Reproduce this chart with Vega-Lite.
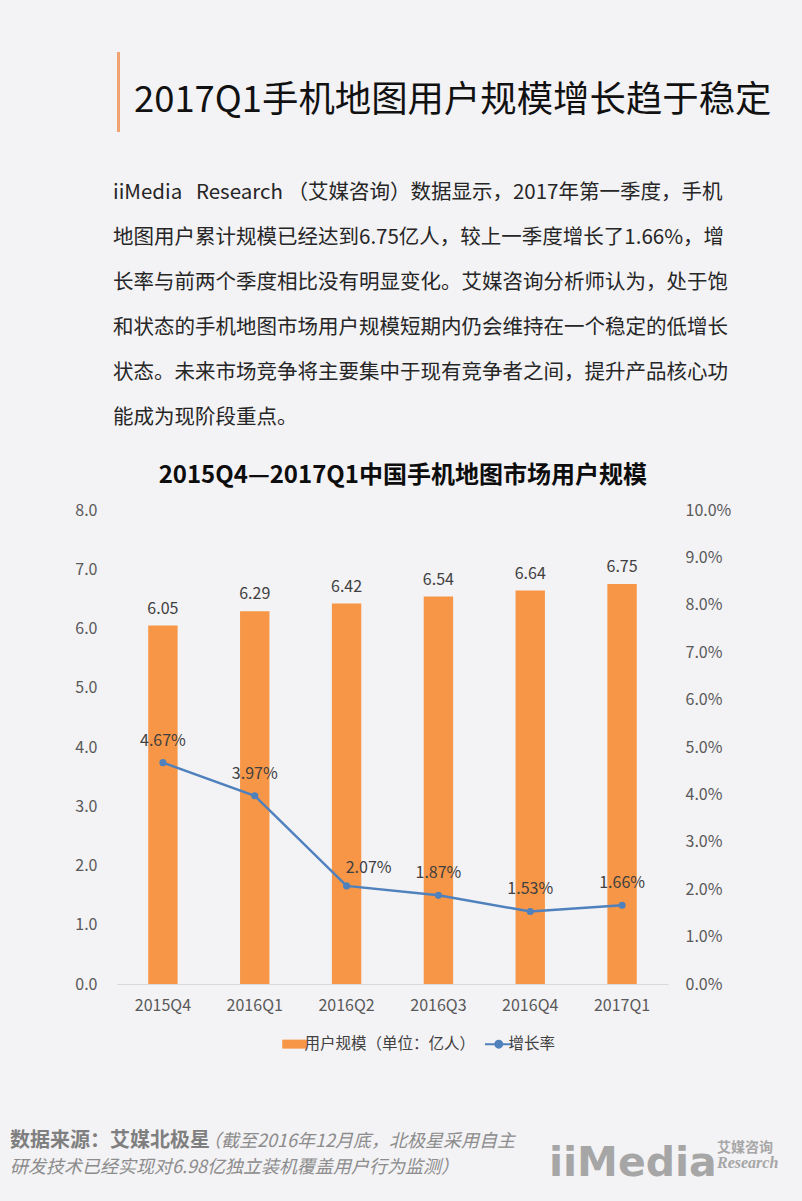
{
  "$schema": "https://vega.github.io/schema/vega-lite/v6.json",
  "background": "#F3F2F5",
  "padding": {"left": 10, "top": 52, "right": 2, "bottom": 2},
  "bounds": "flush",
  "spacing": 0,
  "config": {
    "view": {"stroke": null},
    "font": "Noto Sans CJK SC",
    "title": {"font": "Noto Sans CJK SC", "subtitleFont": "Noto Sans CJK SC"}
  },
  "vconcat": [
    {
      "width": 3,
      "height": 80,
      "view": {"fill": "#F2A170", "stroke": null},
      "data": {"values": []},
      "mark": "point",
      "title": {
        "text": "2017Q1手机地图用户规模增长趋于稳定",
        "orient": "top", "anchor": "start", "frame": "group", "offset": 0,
        "baseline": "alphabetic", "dx": 17, "dy": 96,
        "fontSize": 36.4, "fontWeight": "normal", "color": "#111111"
      }
    },
    {
      "width": 1,
      "height": 378,
      "data": {"values": []},
      "mark": "point",
      "title": {
        "text": [
          "iiMedia\u00a0\u00a0\u00a0Research\u00a0（艾媒咨询）数据显示，2017年第一季度，手机",
          "地图用户累计规模已经达到6.75亿人，较上一季度增长了1.66%，增",
          "长率与前两个季度相比没有明显变化。艾媒咨询分析师认为，处于饱",
          "和状态的手机地图市场用户规模短期内仍会维持在一个稳定的低增长",
          "状态。未来市场竞争将主要集中于现有竞争者之间，提升产品核心功",
          "能成为现阶段重点。"
        ],
        "orient": "top", "anchor": "start", "frame": "group", "offset": 0,
        "baseline": "top", "dx": -4, "dy": 296, "lineHeight": 45,
        "fontSize": 20.5, "fontWeight": "normal", "color": "#262626"
      }
    },
    {
      "width": 551,
      "height": 474,
      "data": {"values": [
        {"quarter": "2015Q4", "users": 6.05, "rate": 0.0467},
        {"quarter": "2016Q1", "users": 6.29, "rate": 0.0397},
        {"quarter": "2016Q2", "users": 6.42, "rate": 0.0207},
        {"quarter": "2016Q3", "users": 6.54, "rate": 0.0187},
        {"quarter": "2016Q4", "users": 6.64, "rate": 0.0153},
        {"quarter": "2017Q1", "users": 6.75, "rate": 0.0166}
      ]},
      "title": {
        "text": "2015Q4—2017Q1中国手机地图市场用户规模",
        "orient": "top", "anchor": "middle", "frame": "bounds", "offset": 14,
        "fontSize": 24, "fontWeight": "bold", "color": "#0D0D0D"
      },
      "encoding": {
        "x": {
          "field": "quarter", "type": "nominal", "sort": null,
          "scale": {"paddingInner": 0.68, "paddingOuter": 0.34},
          "axis": {
            "title": null, "labelAngle": 0, "labelFontSize": 16, "labelColor": "#595959",
            "domainColor": "#D9D9D9", "domainWidth": 1, "ticks": false, "tickSize": 0,
            "labelPadding": 13, "grid": false
          }
        }
      },
      "layer": [
        {
          "encoding": {
            "y": {
              "field": "users", "type": "quantitative",
              "scale": {"domain": [0, 8]},
              "axis": {
                "title": null, "values": [0, 1, 2, 3, 4, 5, 6, 7, 8], "format": ".1f",
                "domain": false, "ticks": false, "tickSize": 0, "grid": false,
                "labelPadding": 20, "labelFontSize": 16, "labelColor": "#595959"
              }
            }
          },
          "layer": [
            {
              "mark": {"type": "bar"},
              "encoding": {
                "color": {
                  "datum": "用户规模（单位：亿人）",
                  "type": "nominal",
                  "scale": {"domain": ["用户规模（单位：亿人）", "增长率"], "range": ["#F79646", "#4F81BD"]},
                  "legend": {
                    "orient": "none", "legendX": 170, "legendY": 984, "direction": "horizontal",
                    "title": null, "labelFontSize": 15.5, "labelColor": "#404040", "labelLimit": 400,
                    "symbolSize": 625, "labelOffset": 2, "columnPadding": 5, "padding": 0,
                    "encode": {
                      "symbols": {
                        "update": {
                          "shape": {"signal": "datum.value === '增长率' ? 'M-1.1,0H1.1M0.28,0A0.28,0.28,0,1,1,-0.28,0A0.28,0.28,0,1,1,0.28,0Z' : 'M-1,-0.36H1V0.36H-1Z'"},
                          "fill": {"scale": "color", "field": "value"},
                          "stroke": {"scale": "color", "field": "value"},
                          "strokeWidth": {"signal": "datum.value === '增长率' ? 2 : 0"},
                          "opacity": {"value": 1},
                          "fillOpacity": {"value": 1}
                        }
                      }
                    }
                  }
                }
              }
            },
            {
              "mark": {"type": "text", "dy": -17, "fontSize": 16, "color": "#404040", "baseline": "middle"},
              "encoding": {"text": {"field": "users", "type": "quantitative", "format": ".2f"}}
            }
          ]
        },
        {
          "encoding": {
            "y": {
              "field": "rate", "type": "quantitative",
              "scale": {"domain": [0, 0.1]},
              "axis": {
                "orient": "right", "title": null,
                "values": [0, 0.01, 0.02, 0.03, 0.04, 0.05, 0.06, 0.07, 0.08, 0.09, 0.1], "format": ".1%",
                "domain": false, "ticks": false, "tickSize": 0, "grid": false,
                "labelPadding": 17, "labelFontSize": 16, "labelColor": "#595959"
              }
            }
          },
          "layer": [
            {
              "mark": {"type": "line", "strokeWidth": 2.5},
              "encoding": {"color": {"datum": "增长率", "type": "nominal"}}
            },
            {
              "mark": {"type": "point", "filled": true, "size": 50, "opacity": 1},
              "encoding": {"color": {"datum": "增长率", "type": "nominal"}}
            },
            {
              "transform": [{"filter": "datum.quarter !== '2016Q2'"}],
              "mark": {"type": "text", "dy": -22, "fontSize": 16, "color": "#404040", "baseline": "middle"},
              "encoding": {"text": {"field": "rate", "type": "quantitative", "format": ".2%"}}
            },
            {
              "transform": [{"filter": "datum.quarter === '2016Q2'"}],
              "mark": {"type": "text", "dy": -18, "dx": 22, "fontSize": 16, "color": "#404040", "baseline": "middle"},
              "encoding": {"text": {"field": "rate", "type": "quantitative", "format": ".2%"}}
            }
          ]
        }
      ],
      "resolve": {"scale": {"y": "independent"}}
    },
    {
      "bounds": "flush",
      "spacing": 0,
      "hconcat": [
        {
          "width": 431,
          "height": 215,
          "data": {"values": []},
          "mark": "point",
          "title": {
            "text": "数据来源：艾媒北极星",
            "subtitle": "研发技术已经实现对6.98亿独立装机覆盖用户行为监测）",
            "orient": "top", "anchor": "start", "frame": "group", "offset": 0,
            "baseline": "top", "dx": -107, "dy": 193,
            "fontSize": 20, "fontWeight": "bold", "color": "#7F7F7F",
            "subtitleFontSize": 18, "subtitleFontStyle": "italic", "subtitleColor": "#8C8C8C",
            "subtitlePadding": 8
          }
        },
        {
          "width": 1,
          "height": 215,
          "data": {"values": []},
          "mark": "point",
          "title": {
            "text": "（截至2016年12月底，北极星采用自主",
            "orient": "top", "anchor": "start", "frame": "group", "offset": 0,
            "baseline": "top", "dx": -345, "dy": 167,
            "fontSize": 18, "fontWeight": "normal", "fontStyle": "italic", "color": "#8C8C8C"
          }
        },
        {
          "width": 168,
          "height": 215,
          "data": {"values": []},
          "mark": "point",
          "title": {
            "text": "iiMedia",
            "orient": "top", "anchor": "start", "frame": "group", "offset": 0,
            "baseline": "alphabetic", "dx": 0, "dy": 233,
            "font": "DejaVu Sans", "fontSize": 41, "fontWeight": "bold", "color": "#A6A6A6"
          }
        },
        {
          "width": 83,
          "height": 215,
          "data": {"values": []},
          "mark": "point",
          "title": {
            "text": "艾媒咨询",
            "subtitle": "Research",
            "orient": "top", "anchor": "start", "frame": "group", "offset": 0,
            "baseline": "top", "dx": 0, "dy": 187,
            "fontSize": 14, "fontWeight": "bold", "color": "#A6A6A6",
            "subtitleFontSize": 16, "subtitleFontStyle": "italic", "subtitleFontWeight": "bold",
            "subtitleColor": "#A6A6A6", "subtitlePadding": 0, "subtitleFont": "Liberation Sans Narrow"
          }
        }
      ]
    }
  ]
}
